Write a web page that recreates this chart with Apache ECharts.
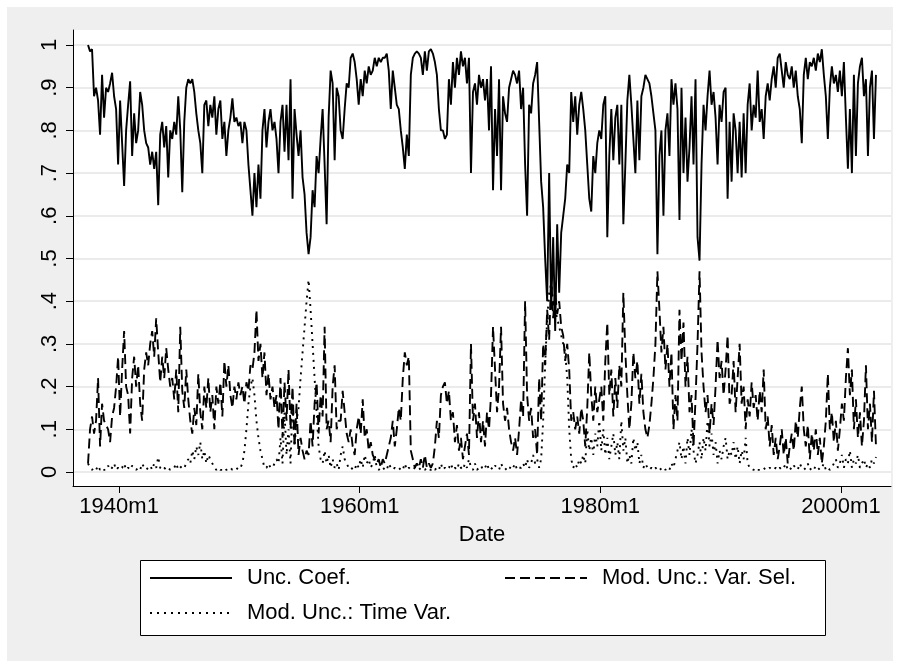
<!DOCTYPE html>
<html>
<head>
<meta charset="utf-8">
<script src="https://cdn.jsdelivr.net/npm/echarts@6/dist/echarts.min.js"></script>
<style>
  html, body { margin: 0; padding: 0; background: #fff; }
  #chart { width: 900px; height: 661px; }
</style>
</head>
<body>
<div id="chart"></div>
<script>
// months counted Stata-style: 0 = 1960m1
const startMonth = -271; // 1937m6
const stepMonths = 2;

const xTickValues = [-240, 0, 240, 480];
const xTickLabels = ["1940m1", "1960m1", "1980m1", "2000m1"];
const yTickLabels = ["0", ".1", ".2", ".3", ".4", ".5", ".6", ".7", ".8", ".9", "1"];

const uncCoef = [
  1.00,0.985,0.99,0.88,0.90,0.87,0.79,0.93,0.83,0.90,
  0.89,0.91,0.935,0.88,0.85,0.72,0.87,0.77,0.67,0.80,
  0.86,0.915,0.74,0.84,0.77,0.80,0.89,0.86,0.80,0.77,
  0.76,0.72,0.75,0.71,0.75,0.625,0.79,0.82,0.76,0.81,
  0.69,0.80,0.78,0.82,0.79,0.88,0.80,0.655,0.82,0.90,
  0.92,0.91,0.92,0.89,0.84,0.80,0.77,0.70,0.86,0.87,
  0.81,0.86,0.83,0.88,0.79,0.85,0.87,0.78,0.82,0.74,
  0.80,0.83,0.875,0.82,0.83,0.81,0.82,0.77,0.82,0.80,
  0.72,0.66,0.60,0.70,0.62,0.72,0.64,0.80,0.85,0.76,
  0.82,0.85,0.80,0.82,0.78,0.70,0.82,0.86,0.75,0.86,
  0.73,0.92,0.64,0.85,0.79,0.74,0.80,0.69,0.65,0.56,
  0.51,0.55,0.66,0.62,0.74,0.70,0.78,0.85,0.72,0.58,
  0.83,0.94,0.91,0.73,0.90,0.88,0.80,0.78,0.85,0.91,
  0.90,0.97,0.98,0.96,0.92,0.86,0.92,0.88,0.94,0.91,
  0.95,0.93,0.94,0.97,0.95,0.97,0.96,0.97,0.97,0.98,
  0.94,0.85,0.94,0.90,0.86,0.85,0.80,0.76,0.71,0.79,
  0.74,0.93,0.97,0.98,0.985,0.98,0.97,0.93,0.985,0.94,
  0.985,0.99,0.98,0.96,0.93,0.85,0.80,0.80,0.78,0.79,
  0.92,0.86,0.96,0.90,0.97,0.93,0.985,0.95,0.97,0.91,
  0.97,0.70,0.89,0.91,0.86,0.93,0.90,0.92,0.87,0.92,
  0.80,0.95,0.66,0.85,0.74,0.92,0.66,0.88,0.84,0.82,
  0.90,0.92,0.94,0.93,0.91,0.94,0.85,0.90,0.72,0.60,
  0.86,0.84,0.91,0.93,0.96,0.82,0.68,0.62,0.50,0.40,
  0.70,0.38,0.55,0.33,0.58,0.42,0.56,0.60,0.64,0.72,
  0.70,0.89,0.82,0.88,0.79,0.86,0.89,0.85,0.80,0.72,
  0.64,0.61,0.74,0.70,0.77,0.80,0.78,0.86,0.88,0.55,
  0.74,0.85,0.73,0.83,0.86,0.72,0.86,0.58,0.72,0.87,
  0.93,0.86,0.78,0.70,0.87,0.73,0.88,0.90,0.93,0.92,
  0.91,0.88,0.84,0.80,0.51,0.74,0.80,0.60,0.80,0.84,
  0.74,0.92,0.86,0.91,0.85,0.59,0.90,0.70,0.83,0.68,
  0.76,0.88,0.72,0.92,0.55,0.495,0.72,0.86,0.80,0.88,
  0.94,0.86,0.89,0.83,0.72,0.86,0.82,0.89,0.90,0.64,
  0.82,0.68,0.84,0.80,0.70,0.82,0.69,0.84,0.70,0.86,
  0.91,0.80,0.86,0.83,0.94,0.82,0.85,0.78,0.88,0.91,
  0.87,0.92,0.95,0.90,0.97,0.98,0.94,0.90,0.96,0.93,
  0.92,0.95,0.90,0.94,0.88,0.85,0.77,0.93,0.97,0.92,
  0.96,0.95,0.97,0.94,0.98,0.96,0.99,0.93,0.88,0.78,
  0.90,0.95,0.91,0.93,0.89,0.94,0.88,0.96,0.83,0.71,
  0.85,0.70,0.93,0.74,0.91,0.95,0.97,0.88,0.92,0.74,
  0.90,0.94,0.78,0.93
];

const varSel = [
  0.02,0.10,0.13,0.09,0.12,0.22,0.06,0.16,0.12,0.11,
  0.10,0.07,0.13,0.15,0.20,0.27,0.13,0.24,0.33,0.20,
  0.18,0.09,0.22,0.27,0.20,0.25,0.16,0.12,0.24,0.28,
  0.25,0.30,0.33,0.27,0.36,0.28,0.21,0.27,0.22,0.29,
  0.24,0.20,0.22,0.17,0.24,0.14,0.34,0.19,0.15,0.24,
  0.17,0.12,0.09,0.15,0.11,0.23,0.14,0.10,0.20,0.15,
  0.22,0.14,0.18,0.10,0.20,0.16,0.21,0.13,0.26,0.20,
  0.25,0.18,0.15,0.20,0.17,0.21,0.18,0.20,0.16,0.21,
  0.19,0.25,0.24,0.28,0.38,0.26,0.30,0.22,0.28,0.18,
  0.23,0.17,0.20,0.15,0.18,0.10,0.22,0.08,0.21,0.12,
  0.24,0.10,0.20,0.06,0.16,0.04,0.08,0.05,0.03,0.05,
  0.04,0.12,0.06,0.16,0.21,0.09,0.18,0.13,0.34,0.10,
  0.12,0.07,0.20,0.25,0.10,0.12,0.12,0.19,0.14,0.09,
  0.07,0.10,0.06,0.04,0.10,0.13,0.09,0.17,0.08,0.10,
  0.05,0.07,0.04,0.03,0.02,0.03,0.01,0.03,0.02,0.04,
  0.06,0.08,0.12,0.06,0.10,0.15,0.12,0.22,0.28,0.25,
  0.27,0.05,0.03,0.01,0.02,0.01,0.03,0.01,0.04,0.01,
  0.02,0.01,0.02,0.06,0.12,0.08,0.18,0.20,0.21,0.16,
  0.19,0.12,0.14,0.07,0.11,0.05,0.08,0.03,0.06,0.09,
  0.04,0.30,0.12,0.16,0.08,0.14,0.07,0.12,0.06,0.14,
  0.10,0.18,0.34,0.24,0.14,0.20,0.34,0.16,0.12,0.15,
  0.10,0.07,0.05,0.08,0.04,0.10,0.17,0.13,0.40,0.18,
  0.12,0.15,0.08,0.10,0.04,0.22,0.12,0.30,0.25,0.38,
  0.31,0.46,0.36,0.42,0.37,0.40,0.34,0.32,0.26,0.30,
  0.24,0.12,0.14,0.10,0.13,0.09,0.15,0.12,0.06,0.15,
  0.28,0.18,0.12,0.20,0.14,0.17,0.20,0.12,0.26,0.35,
  0.18,0.24,0.13,0.22,0.15,0.25,0.20,0.42,0.28,0.18,
  0.10,0.16,0.28,0.22,0.26,0.16,0.23,0.14,0.10,0.08,
  0.11,0.16,0.22,0.30,0.47,0.38,0.28,0.34,0.24,0.30,
  0.20,0.28,0.10,0.18,0.12,0.38,0.26,0.35,0.20,0.27,
  0.14,0.18,0.06,0.17,0.30,0.47,0.28,0.20,0.14,0.18,
  0.09,0.16,0.11,0.20,0.31,0.22,0.26,0.18,0.24,0.32,
  0.16,0.18,0.26,0.14,0.22,0.30,0.16,0.20,0.10,0.17,
  0.13,0.21,0.15,0.18,0.12,0.19,0.14,0.24,0.10,0.13,
  0.06,0.11,0.04,0.08,0.03,0.06,0.10,0.04,0.08,0.02,
  0.06,0.09,0.05,0.12,0.08,0.15,0.20,0.10,0.06,0.11,
  0.03,0.09,0.05,0.10,0.04,0.08,0.02,0.06,0.12,0.23,
  0.10,0.14,0.07,0.12,0.05,0.10,0.16,0.12,0.22,0.29,
  0.18,0.24,0.10,0.17,0.08,0.14,0.06,0.12,0.25,0.10,
  0.16,0.07,0.19,0.06
];

const timeVar = [
  0.02,0.01,0.005,0.01,0.005,0.015,0.005,0.01,0.005,0.005,
  0.015,0.005,0.01,0.02,0.005,0.01,0.005,0.01,0.02,0.005,
  0.01,0.005,0.015,0.01,0.005,0.01,0.005,0.02,0.01,0.005,
  0.01,0.015,0.005,0.02,0.01,0.035,0.01,0.005,0.01,0.005,
  0.01,0.005,0.005,0.01,0.02,0.005,0.01,0.015,0.01,0.02,
  0.03,0.02,0.05,0.03,0.06,0.04,0.07,0.03,0.05,0.02,
  0.04,0.03,0.02,0.01,0.005,0.01,0.005,0.005,0.01,0.005,
  0.005,0.01,0.005,0.005,0.01,0.005,0.01,0.02,0.05,0.10,
  0.16,0.20,0.22,0.18,0.12,0.08,0.05,0.03,0.01,0.01,
  0.02,0.01,0.01,0.02,0.03,0.02,0.08,0.02,0.14,0.04,
  0.10,0.02,0.16,0.06,0.12,0.15,0.22,0.28,0.34,0.40,
  0.45,0.38,0.30,0.22,0.14,0.06,0.03,0.02,0.05,0.02,
  0.04,0.01,0.03,0.01,0.02,0.005,0.04,0.06,0.03,0.02,
  0.01,0.005,0.01,0.005,0.02,0.01,0.03,0.01,0.04,0.02,
  0.03,0.01,0.02,0.04,0.01,0.005,0.01,0.005,0.01,0.005,
  0.02,0.01,0.005,0.01,0.005,0.005,0.01,0.005,0.02,0.005,
  0.01,0.005,0.005,0.01,0.005,0.005,0.01,0.005,0.005,0.01,
  0.005,0.005,0.01,0.005,0.01,0.005,0.02,0.005,0.01,0.005,
  0.01,0.02,0.005,0.01,0.005,0.02,0.01,0.005,0.02,0.01,
  0.03,0.01,0.005,0.02,0.005,0.01,0.015,0.005,0.01,0.02,
  0.005,0.01,0.005,0.015,0.01,0.005,0.02,0.01,0.005,0.01,
  0.005,0.015,0.01,0.02,0.005,0.01,0.01,0.02,0.01,0.03,
  0.01,0.02,0.04,0.02,0.03,0.01,0.03,0.12,0.25,0.36,
  0.42,0.44,0.40,0.38,0.36,0.34,0.32,0.30,0.28,0.22,
  0.10,0.03,0.01,0.02,0.01,0.03,0.02,0.04,0.02,0.10,
  0.05,0.08,0.04,0.09,0.06,0.12,0.05,0.10,0.04,0.08,
  0.03,0.06,0.09,0.04,0.07,0.03,0.12,0.05,0.08,0.02,
  0.04,0.02,0.08,0.05,0.07,0.02,0.04,0.01,0.02,0.01,
  0.005,0.01,0.005,0.01,0.005,0.01,0.005,0.01,0.005,0.01,
  0.005,0.02,0.01,0.03,0.05,0.07,0.03,0.06,0.02,0.08,
  0.04,0.10,0.05,0.02,0.04,0.07,0.03,0.08,0.05,0.12,
  0.06,0.09,0.04,0.07,0.02,0.05,0.03,0.06,0.08,0.03,
  0.05,0.04,0.07,0.03,0.06,0.02,0.05,0.03,0.08,0.02,
  0.01,0.005,0.005,0.01,0.005,0.005,0.005,0.01,0.005,0.005,
  0.01,0.005,0.005,0.01,0.005,0.01,0.005,0.01,0.02,0.005,
  0.01,0.005,0.015,0.01,0.005,0.02,0.01,0.005,0.01,0.02,
  0.005,0.01,0.005,0.015,0.01,0.005,0.01,0.02,0.005,0.01,
  0.005,0.01,0.02,0.03,0.01,0.02,0.04,0.01,0.03,0.02,
  0.05,0.01,0.03,0.02,0.04,0.01,0.02,0.03,0.01,0.02,
  0.01,0.03,0.02,0.035
];

const font = "'Liberation Sans', Arial, sans-serif";
const toPoints = (vals) => vals.map((v, i) => [startMonth + stepMonths * i, v]);

const legendBase = {
  padding: 0,
  itemGap: 0,
  itemWidth: 82,
  itemHeight: 22,
  selectedMode: false,
  itemStyle: { opacity: 0 }, // hide the symbol, keep the line sample
  textStyle: { color: "#000", fontSize: 22, fontFamily: font, padding: [0, 0, 0, 10] },
};

const lineSeries = (name, vals, type) => ({
  name,
  type: "line",
  xAxisIndex: 1,
  yAxisIndex: 1,
  data: toPoints(vals),
  symbol: "none",
  showSymbol: false,
  clip: false,
  itemStyle: { color: "#000" },
  lineStyle: { color: "#000", width: 1.9, type },
});

const chart = echarts.init(document.getElementById("chart"));
chart.setOption({
  animation: false,
  backgroundColor: "#fff",
  textStyle: { fontFamily: font },
  graphic: [
    { type: "rect", z: -10, silent: true, shape: { x: 7, y: 7, width: 886, height: 660 }, style: { fill: "#efefef" } },
    { type: "rect", z: 0, silent: true, shape: { x: 140.5, y: 560.5, width: 685, height: 75 }, style: { fill: "#fff", stroke: "#000", lineWidth: 1 } },
  ],
  grid: [
    { left: 73, right: 9, top: 30, bottom: 175, show: true, backgroundColor: "#fff", borderWidth: 0 },
    { left: 73, right: 9, top: 45, bottom: 189 },
  ],
  xAxis: [
    {
      gridIndex: 0, type: "value", min: -286, max: 530,
      axisLine: { onZero: false, lineStyle: { color: "#000", width: 1 } },
      axisTick: { customValues: xTickValues, length: 7, lineStyle: { color: "#000" } },
      axisLabel: {
        customValues: xTickValues,
        formatter: (v) => xTickLabels[xTickValues.indexOf(v)],
        margin: 10, color: "#000", fontSize: 22, fontFamily: font,
      },
      splitLine: { show: false },
      name: "Date", nameLocation: "middle", nameGap: 38,
      nameTextStyle: { color: "#000", fontSize: 22, fontFamily: font },
    },
    { gridIndex: 1, type: "value", min: -286, max: 530, show: false },
  ],
  yAxis: [
    {
      gridIndex: 0, type: "value", min: 0, max: 1,
      axisLine: { show: true, onZero: false, lineStyle: { color: "#000", width: 1 } },
      axisTick: { show: false }, axisLabel: { show: false }, splitLine: { show: false },
    },
    {
      gridIndex: 1, type: "value", min: 0, max: 1, interval: 0.1,
      axisLine: { show: false, onZero: false },
      axisTick: { show: true, length: 7, lineStyle: { color: "#000" } },
      axisLabel: {
        rotate: 90, margin: 12, color: "#000", fontSize: 22, fontFamily: font,
        formatter: (v) => yTickLabels[Math.round(v * 10)],
      },
      splitLine: { show: true, lineStyle: { color: "#e4e4e4", width: 1.5 } },
    },
  ],
  legend: [
    { ...legendBase, data: ["Unc. Coef."], left: 149, top: 567 },
    { ...legendBase, data: ["Mod. Unc.: Var. Sel."], left: 504, top: 567 },
    { ...legendBase, data: ["Mod. Unc.: Time Var."], left: 149, top: 602 },
  ],
  series: [
    lineSeries("Unc. Coef.", uncCoef, "solid"),
    lineSeries("Mod. Unc.: Var. Sel.", varSel, [10, 5]),
    lineSeries("Mod. Unc.: Time Var.", timeVar, [2, 5]),
  ],
});
</script>
</body>
</html>
